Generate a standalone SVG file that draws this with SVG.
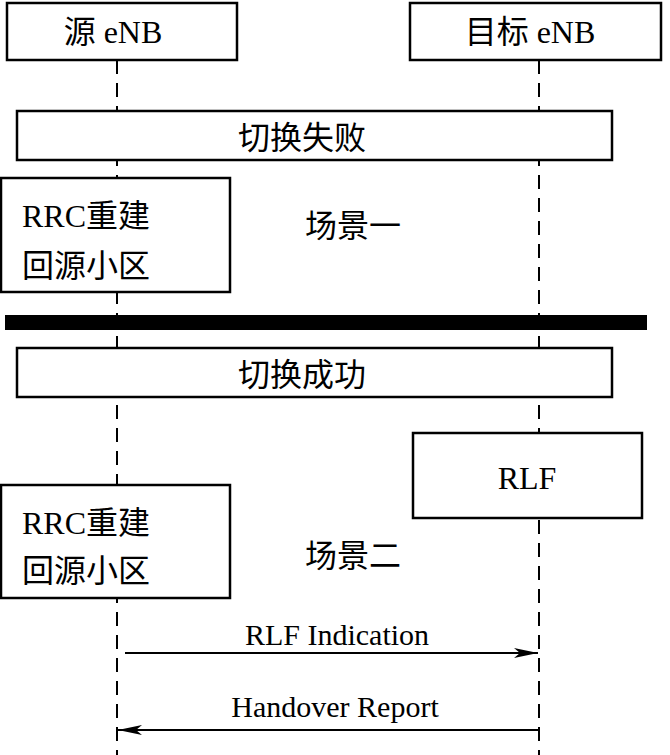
<svg xmlns="http://www.w3.org/2000/svg" width="670" height="755" viewBox="0 0 670 755">
<style>
.box{fill:#fff;stroke:#000;stroke-width:2.5}
.life{stroke:#000;stroke-width:2;stroke-dasharray:14 9;fill:none}
.t{font-family:"Liberation Serif","Noto Sans CJK SC",serif;font-size:32px;fill:#000}
.s{font-family:"Liberation Serif","Noto Sans CJK SC",serif;font-size:30px;fill:#000}
.msg{stroke:#000;stroke-width:2;fill:none}
</style>
<defs>
<marker id="ah" viewBox="0 0 24 10" refX="24" refY="5" markerWidth="24" markerHeight="10" markerUnits="userSpaceOnUse" orient="auto">
<path d="M0,0 L24,5 L0,10 L6,5 Z" fill="#000"/>
</marker>
</defs>
<g id="connectors">
<line class="life" x1="117" y1="60" x2="117" y2="755"/>
<line class="life" x1="539" y1="60" x2="539" y2="755"/>
<line class="msg" x1="125" y1="653" x2="538" y2="653" marker-end="url(#ah)"/>
<line class="msg" x1="538" y1="730" x2="118" y2="730" marker-end="url(#ah)"/>
</g>
<g id="src">
<rect class="box" x="7" y="3" width="230" height="57"/>
<text class="t" x="113" y="43" text-anchor="middle">源 eNB</text>
</g>
<g id="tgt">
<rect class="box" x="410" y="3" width="251" height="57"/>
<text class="t" x="530" y="43" text-anchor="middle">目标 eNB</text>
</g>
<g id="fail">
<rect class="box" x="17" y="111" width="595" height="49"/>
<text class="t" x="302" y="149" text-anchor="middle">切换失败</text>
</g>
<g id="rrc1">
<rect class="box" x="1" y="178" width="229" height="114"/>
<text class="t" x="22" y="227">RRC重建</text>
<text class="t" x="22" y="277">回源小区</text>
</g>
<g id="scene1">
<text class="t" x="305" y="237">场景一</text>
</g>
<g id="divider">
<rect x="5" y="315" width="642" height="15" fill="#000"/>
</g>
<g id="success">
<rect class="box" x="17" y="348" width="595" height="49"/>
<text class="t" x="302" y="386" text-anchor="middle">切换成功</text>
</g>
<g id="rlf">
<rect class="box" x="413" y="433" width="229" height="85"/>
<text class="t" x="527" y="489" text-anchor="middle">RLF</text>
</g>
<g id="rrc2">
<rect class="box" x="1" y="485" width="229" height="113"/>
<text class="t" x="22" y="534">RRC重建</text>
<text class="t" x="22" y="582">回源小区</text>
</g>
<g id="scene2">
<text class="t" x="305" y="567">场景二</text>
</g>
<g id="labels">
<text class="s" x="337" y="645" text-anchor="middle">RLF Indication</text>
<text class="s" x="335" y="717" text-anchor="middle">Handover Report</text>
</g>
</svg>
